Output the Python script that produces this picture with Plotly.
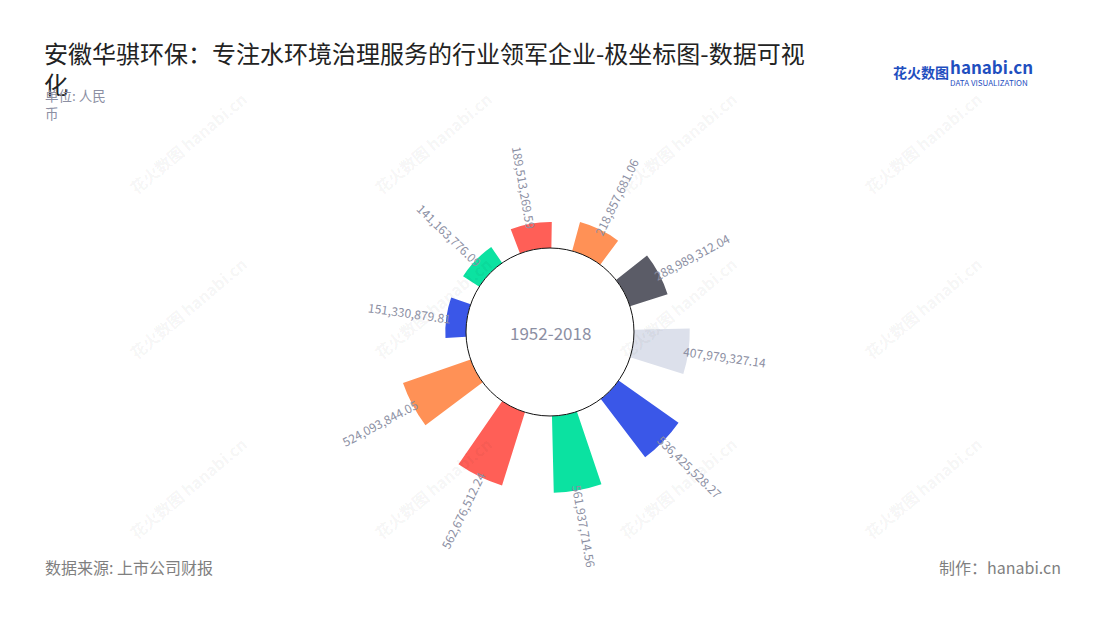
import math
import plotly.graph_objects as go

# ---------------- data ----------------
categories = ["2009", "2010", "2011", "2012", "2013", "2014", "2015", "2016", "2017", "2018"]
values = [151330879.81, 141163776.09, 189513269.59, 218857681.06, 288989312.04,
          407979327.14, 536425528.27, 561937714.56, 562676512.24, 524093844.05]
center_label = "1952-2018"
title_line1 = "安徽华骐环保：专注水环境治理服务的行业领军企业-极坐标图-数据可视"
title_line2 = "化"
unit_text = "单位: 人民<br>币"
source_text = "数据来源: 上市公司财报"
maker_text = "制作：hanabi.cn"

palette = ["#3A57E8", "#0BE2A1", "#FF5F57", "#FF9156", "#5B5C67", "#DCE0EB"]

# ---------------- geometry / style ----------------
OFF = 8                        # page body margin
W, H = 1100 - OFF, 620 - OFF
CX, CY = 550.0, 332.0          # centre of the polar area (screen px)
R = 166.0                      # outer radius of polar area (px)
HOLE = 0.506
RMAX = 600000000
ROT = 172                      # math angle of first category
FONT = "Noto Sans CJK SC"
LABEL_COLOR = "#8C8FA3"


def px(x):
    return (x - OFF) / W


def py(y):
    return 1 - (y - OFF) / H


n = len(values)
step = 360.0 / n
theta = [i * step for i in range(n)]
colors = [palette[i % len(palette)] for i in range(n)]


def r_px(v):
    return R * HOLE + v / RMAX * R * (1 - HOLE)


# angular width so that bars look like constant-width rectangles (~37 px)
bar_px = 37.0
widths = [math.degrees(bar_px / ((R * HOLE + r_px(v)) / 2)) for v in values]

fig = go.Figure()
fig.add_trace(go.Barpolar(
    r=values, theta=theta, width=widths,
    marker=dict(color=colors, line=dict(width=0)),
    customdata=categories,
    hovertemplate="%{customdata}: %{r:,.2f}<extra></extra>",
))

fig.update_layout(
    width=W, height=H,
    margin=dict(l=0, r=0, t=0, b=0),
    paper_bgcolor="white",
    plot_bgcolor="white",
    showlegend=False,
    font=dict(family=FONT),
    polar=dict(
        domain=dict(x=[px(CX - R), px(CX + R)], y=[py(CY + R), py(CY - R)]),
        hole=HOLE,
        bgcolor="rgba(0,0,0,0)",
        angularaxis=dict(visible=False, showline=False, showgrid=False,
                         direction="clockwise", rotation=ROT, thetaunit="degrees"),
        radialaxis=dict(visible=False, showline=False, showgrid=False, range=[0, RMAX]),
    ),
)

annotations = []
shapes = []

# watermarks
wm_cols = [188, 433, 678, 923]
wm_rows = [143, 308, 488]
for yy in wm_rows:
    for xx in wm_cols:
        annotations.append(dict(
            xref="paper", yref="paper", x=px(xx), y=py(yy),
            text="<b>花火数图</b> <b>hanabi.cn</b>", showarrow=False, textangle=-40,
            font=dict(size=16, color="rgba(0,0,0,0.055)", family=FONT),
            xanchor="center", yanchor="middle",
        ))

# hole circle
hr = R * HOLE
shapes.append(dict(
    type="circle", xref="paper", yref="paper",
    x0=px(CX - hr), x1=px(CX + hr),
    y0=py(CY + hr), y1=py(CY - hr),
    line=dict(color="#111111", width=1), fillcolor="rgba(255,255,255,0)",
    layer="above",
))

# value labels
half_len = 41.0
for i, v in enumerate(values):
    comp = (90 - ROT + theta[i]) % 360
    rc = r_px(v) - 4 + half_len
    x = CX + rc * math.sin(math.radians(comp))
    y = CY - rc * math.cos(math.radians(comp))
    ang = comp - 90 if comp < 180 else comp - 270
    annotations.append(dict(
        xref="paper", yref="paper", x=px(x), y=py(y),
        text=f"{v:,.2f}", showarrow=False, textangle=ang,
        font=dict(size=12, color=LABEL_COLOR, family=FONT),
        xanchor="center", yanchor="middle",
    ))

# centre text
annotations.append(dict(
    xref="paper", yref="paper", x=px(CX), y=py(CY),
    text=center_label, showarrow=False,
    font=dict(size=17, color=LABEL_COLOR, family=FONT),
    xanchor="center", yanchor="middle",
))

# titles
annotations.append(dict(
    xref="paper", yref="paper", x=px(42), y=py(33),
    text=title_line1, showarrow=False, xanchor="left", yanchor="top",
    font=dict(size=24, color="#222222", family=FONT),
))
annotations.append(dict(
    xref="paper", yref="paper", x=px(42), y=py(64),
    text=title_line2, showarrow=False, xanchor="left", yanchor="top",
    font=dict(size=24, color="#222222", family=FONT),
))
annotations.append(dict(
    xref="paper", yref="paper", x=px(43), y=py(83),
    text=unit_text, showarrow=False, xanchor="left", yanchor="top", align="left",
    font=dict(size=13.5, color="#8C8FA3", family=FONT),
))

# logo
annotations.append(dict(
    xref="paper", yref="paper", x=px(891), y=py(72),
    text="<b>花火数图</b>", showarrow=False, xanchor="left", yanchor="middle",
    font=dict(size=14, color="#1F4FBF", family=FONT),
))
annotations.append(dict(
    xref="paper", yref="paper", x=px(948), y=py(67),
    text="<b>hanabi.cn</b>", showarrow=False, xanchor="left", yanchor="middle",
    font=dict(size=17, color="#1F4FBF", family=FONT),
))
annotations.append(dict(
    xref="paper", yref="paper", x=px(948), y=py(82),
    text="DATA VISUALIZATION", showarrow=False, xanchor="left", yanchor="middle",
    font=dict(size=8, color="#1F4FBF", family=FONT),
))

# footer
annotations.append(dict(
    xref="paper", yref="paper", x=px(43), y=py(567),
    text=source_text, showarrow=False, xanchor="left", yanchor="middle",
    font=dict(size=16, color="#7F7F7F", family=FONT),
))
annotations.append(dict(
    xref="paper", yref="paper", x=px(1063), y=py(567),
    text=maker_text, showarrow=False, xanchor="right", yanchor="middle",
    font=dict(size=16, color="#7F7F7F", family=FONT),
))

fig.update_layout(annotations=annotations, shapes=shapes)
fig.write_html("out.html")
